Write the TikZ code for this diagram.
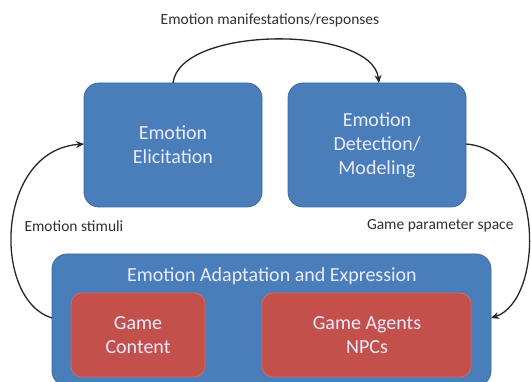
\documentclass[tikz,border=0pt]{standalone}
\usepackage{fontspec}
\setmainfont{Carlito}
\usetikzlibrary{arrows.meta}
\definecolor{boxblue}{HTML}{4A7EBB}
\definecolor{blueedge}{HTML}{3A6A9F}
\definecolor{boxred}{HTML}{C4504B}
\definecolor{rededge}{HTML}{D26A62}
\definecolor{lbl}{HTML}{303030}
\tikzset{
  bluebox/.style={draw=blueedge, line width=0.8pt, fill=boxblue, rounded corners=15pt},
  redbox/.style={draw=rededge, line width=0.8pt, fill=boxred, rounded corners=11pt},
  boxtext/.style={text=white!92!blue, font=\fontsize{20}{24}\selectfont, align=center},
  lbltext/.style={text=lbl, font=\fontsize{15.5}{18}\selectfont},
  conn/.style={draw=black!85, line width=1.3pt, -{Stealth[length=8pt,width=7pt]}}
}
\begin{document}
\begin{tikzpicture}[x=1pt,y=-1pt]
\useasboundingbox (0,0) rectangle (531,382);
\fill[white] (0,0) rectangle (531,382);
% upper boxes
\draw[bluebox] (84,83) rectangle (262,207);
\node[boxtext] (elic) at (173,145) {Emotion\\Elicitation};
\coordinate (elicT) at (173,83);
\coordinate (elicL) at (84,144);
\draw[bluebox] (288,83) rectangle (466,207);
\node[boxtext] (det) at (377,145) {Emotion\\Detection/\\Modeling};
\coordinate (detT) at (379,83);
\coordinate (detR) at (466,144);
% bottom box
\draw[bluebox] (52,254) rectangle (491,386);
\node[boxtext] (adapt) at (272,276) {Emotion Adaptation and Expression};
\coordinate (adL) at (52,318);
\coordinate (adR) at (491,318);
\draw[redbox] (71,293) rectangle (205,377);
\node[boxtext] (cont) at (138,335) {Game\\Content};
\draw[redbox] (262,293) rectangle (471,377);
\node[boxtext] (agents) at (367,335) {Game Agents\\NPCs};
% labels
\node[lbltext] (lman) at (270,20) {Emotion manifestations/responses};
\node[lbltext, anchor=west] (lstim) at (21,226) {Emotion stimuli};
\node[lbltext, anchor=east] (lgame) at (517,226) {Game parameter space};
% connectors
\draw[conn] (elicT) .. controls (180,25) and (372,25) .. (detT);
\draw[conn] (adL) .. controls (-8,300) and (-5,150) .. (elicL);
\draw[conn] (detR) .. controls (545,150) and (545,300) .. (adR);
\end{tikzpicture}
\end{document}
